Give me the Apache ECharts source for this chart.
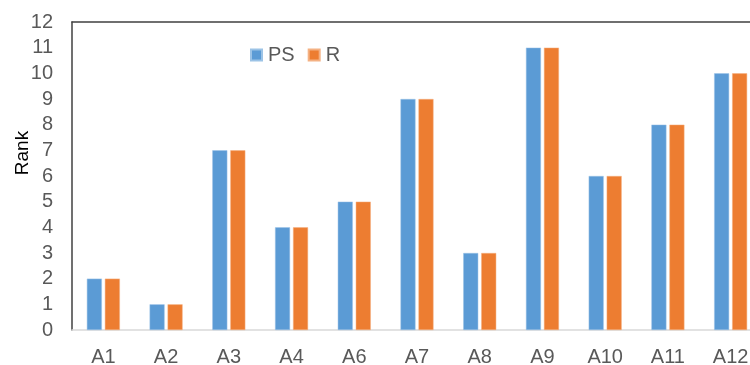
<!DOCTYPE html>
<html>
<head>
<meta charset="utf-8">
<script src="https://cdn.jsdelivr.net/npm/echarts@6/dist/echarts.min.js"></script>
<style>
  html, body { margin: 0; padding: 0; background: #fff; }
  #chart { width: 750px; height: 365px; }
</style>
</head>
<body>
<div id="chart"></div>
<script>
const categories = ["A1", "A2", "A3", "A4", "A6", "A7", "A8", "A9", "A10", "A11", "A12"];
const psValues = [2, 1, 7, 4, 5, 9, 3, 11, 6, 8, 10];
const rValues = [2, 1, 7, 4, 5, 9, 3, 11, 6, 8, 10];
const seriesNames = ["PS", "R"];

let mychart = echarts.init(document.getElementById("chart"));
const option = {
  animation: false,
  textStyle: { fontFamily: "Liberation Sans, Arial, sans-serif" },
  legend: {
    data: seriesNames,
    left: 245,
    top: 40,
    itemWidth: 11,
    itemHeight: 11,
    itemGap: 13,
    icon: "rect",
    textStyle: { fontSize: 20, color: "#595959", padding: [0, 0, 0, 1] },
  },
  grid: {
    left: 72,
    top: 22,
    bottom: 35,
    width: 690,
    containLabel: false,
    outerBoundsMode: "none",
  },
  xAxis: [
    {
      type: "category",
      data: categories,
      axisLine: { show: true, lineStyle: { color: "#d9d9d9", width: 1.5 } },
      axisTick: { show: false },
      axisLabel: { fontSize: 20, color: "#595959", margin: 17 },
    },
    {
      type: "category",
      data: categories,
      position: "top",
      axisLine: { show: true, lineStyle: { color: "#404040", width: 1.5 } },
      axisTick: { show: false },
      axisLabel: { show: false },
    },
  ],
  yAxis: {
    type: "value",
    min: 0,
    max: 12,
    interval: 1,
    name: "Rank",
    nameLocation: "middle",
    nameGap: 40,
    nameMoveOverlap: false,
    nameTextStyle: { fontSize: 19, color: "#000", padding: [0, 0, 0, 46] },
    axisLine: { show: true, lineStyle: { color: "#404040", width: 1.5 } },
    axisTick: { show: false },
    splitLine: { show: false },
    axisLabel: { fontSize: 20, color: "#595959", margin: 19 },
  },
  series: [
    {
      name: "PS",
      type: "bar",
      data: psValues,
      barWidth: 15,
      barGap: "20%",
      itemStyle: { color: "#5b9bd5", borderColor: "#9cc3e6", borderWidth: 0.5 },
    },
    {
      name: "R",
      type: "bar",
      data: rValues,
      barWidth: 15,
      barGap: "20%",
      itemStyle: { color: "#ed7d31", borderColor: "#f4b183", borderWidth: 0.5 },
    },
  ],
};
mychart.setOption(option);
</script>
</body>
</html>
